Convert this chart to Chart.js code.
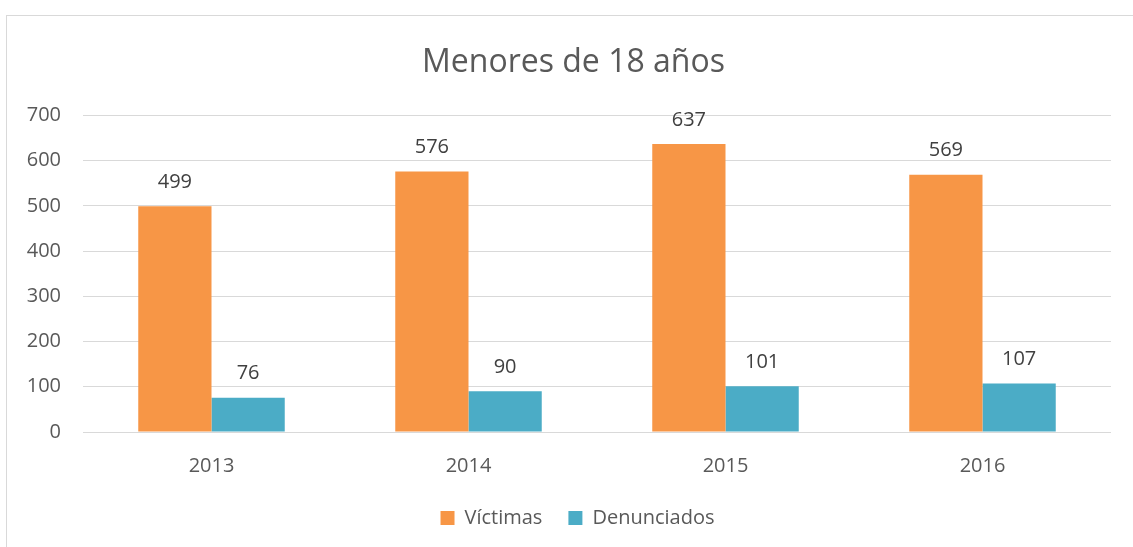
<!DOCTYPE html>
<html lang="es">

<head>
  <meta charset="UTF-8" />
  <title>Menores de 18 años</title>
  <style>
    html, body { margin: 0; padding: 0; background: #fff; }
    #wrap { width: 1133px; height: 547px; position: relative; }
  </style>
</head>

<body>
  <div id="wrap"><canvas id="chart"></canvas></div>

  <script src="https://cdn.jsdelivr.net/npm/chart.js@4.4.0/dist/chart.umd.min.js"></script>
  <script>
    // datos del grafico
    var years = ["2013", "2014", "2015", "2016"];
    var victimas = [499, 576, 637, 569];
    var denunciados = [76, 90, 101, 107];
    var yTicks = [0, 100, 200, 300, 400, 500, 600, 700];

    var FONT = "'Open Sans', sans-serif";

    // marco gris del grafico
    var framePlugin = {
      id: "frame",
      beforeDraw: function (chart) {
        var ctx = chart.ctx;
        ctx.save();
        ctx.strokeStyle = "#d9d9d9";
        ctx.lineWidth = 1;
        ctx.strokeRect(6.5, 15.5, chart.width + 20, chart.height + 20);
        ctx.restore();
      }
    };

    // titulo y leyenda un poco a la derecha, como en el original
    var shiftPlugin = {
      id: "shift",
      afterLayout: function (chart) {
        chart.titleBlock.left += 18;
        chart.titleBlock.right += 18;
        chart.legend.left += 22;
        chart.legend.right += 22;
      }
    };

    // etiquetas de valor encima de cada barra
    var labelPlugin = {
      id: "valueLabels",
      afterDatasetsDraw: function (chart) {
        var ctx = chart.ctx;
        ctx.save();
        ctx.font = "20px " + FONT;
        ctx.fillStyle = "#404040";
        ctx.textAlign = "center";
        ctx.textBaseline = "middle";
        chart.data.datasets.forEach(function (ds, i) {
          chart.getDatasetMeta(i).data.forEach(function (bar, j) {
            ctx.fillText(ds.data[j], bar.x, bar.y - 24);
          });
        });
        ctx.restore();
      }
    };

    var ctx = document.getElementById("chart").getContext("2d");
    var myChart = new Chart(ctx, {
      type: "bar",
      data: {
        labels: years,
        datasets: [
          {
            label: "Víctimas",
            data: victimas,
            backgroundColor: "#F79646",
          },
          {
            label: "Denunciados",
            data: denunciados,
            backgroundColor: "#4BACC6",
          },
        ],
      },
      plugins: [framePlugin, shiftPlugin, labelPlugin],
      options: {
        responsive: true,
        maintainAspectRatio: false,
        animation: false,
        layout: { padding: { left: 0, right: 22, top: 0, bottom: 9 } },
        datasets: { bar: { barPercentage: 1, categoryPercentage: 0.57 } },
        plugins: {
          title: {
            display: true,
            text: "Menores de 18 años",
            color: "#595959",
            font: { family: FONT, size: 32, weight: "normal" },
            padding: { top: 44, bottom: 33 },
          },
          legend: {
            position: "bottom",
            labels: {
              color: "#595959",
              font: { family: FONT, size: 20 },
              boxWidth: 14,
              boxHeight: 14,
              padding: 26,
            },
          },
          tooltip: { enabled: false },
        },
        scales: {
          x: {
            grid: { display: false },
            border: { display: false },
            ticks: { color: "#595959", font: { family: FONT, size: 20 }, padding: 14 },
            afterFit: function (axis) { axis.height = 50; },
          },
          y: {
            min: 0,
            max: 700,
            afterBuildTicks: function (axis) {
              axis.ticks = yTicks.map(function (v) { return { value: v }; });
            },
            grid: { color: "#d9d9d9", drawTicks: false },
            border: { display: false },
            ticks: { color: "#595959", font: { family: FONT, size: 20 }, padding: 22 },
            afterFit: function (axis) { axis.width = 83; },
          },
        },
      },
    });
  </script>
</body>

</html>
